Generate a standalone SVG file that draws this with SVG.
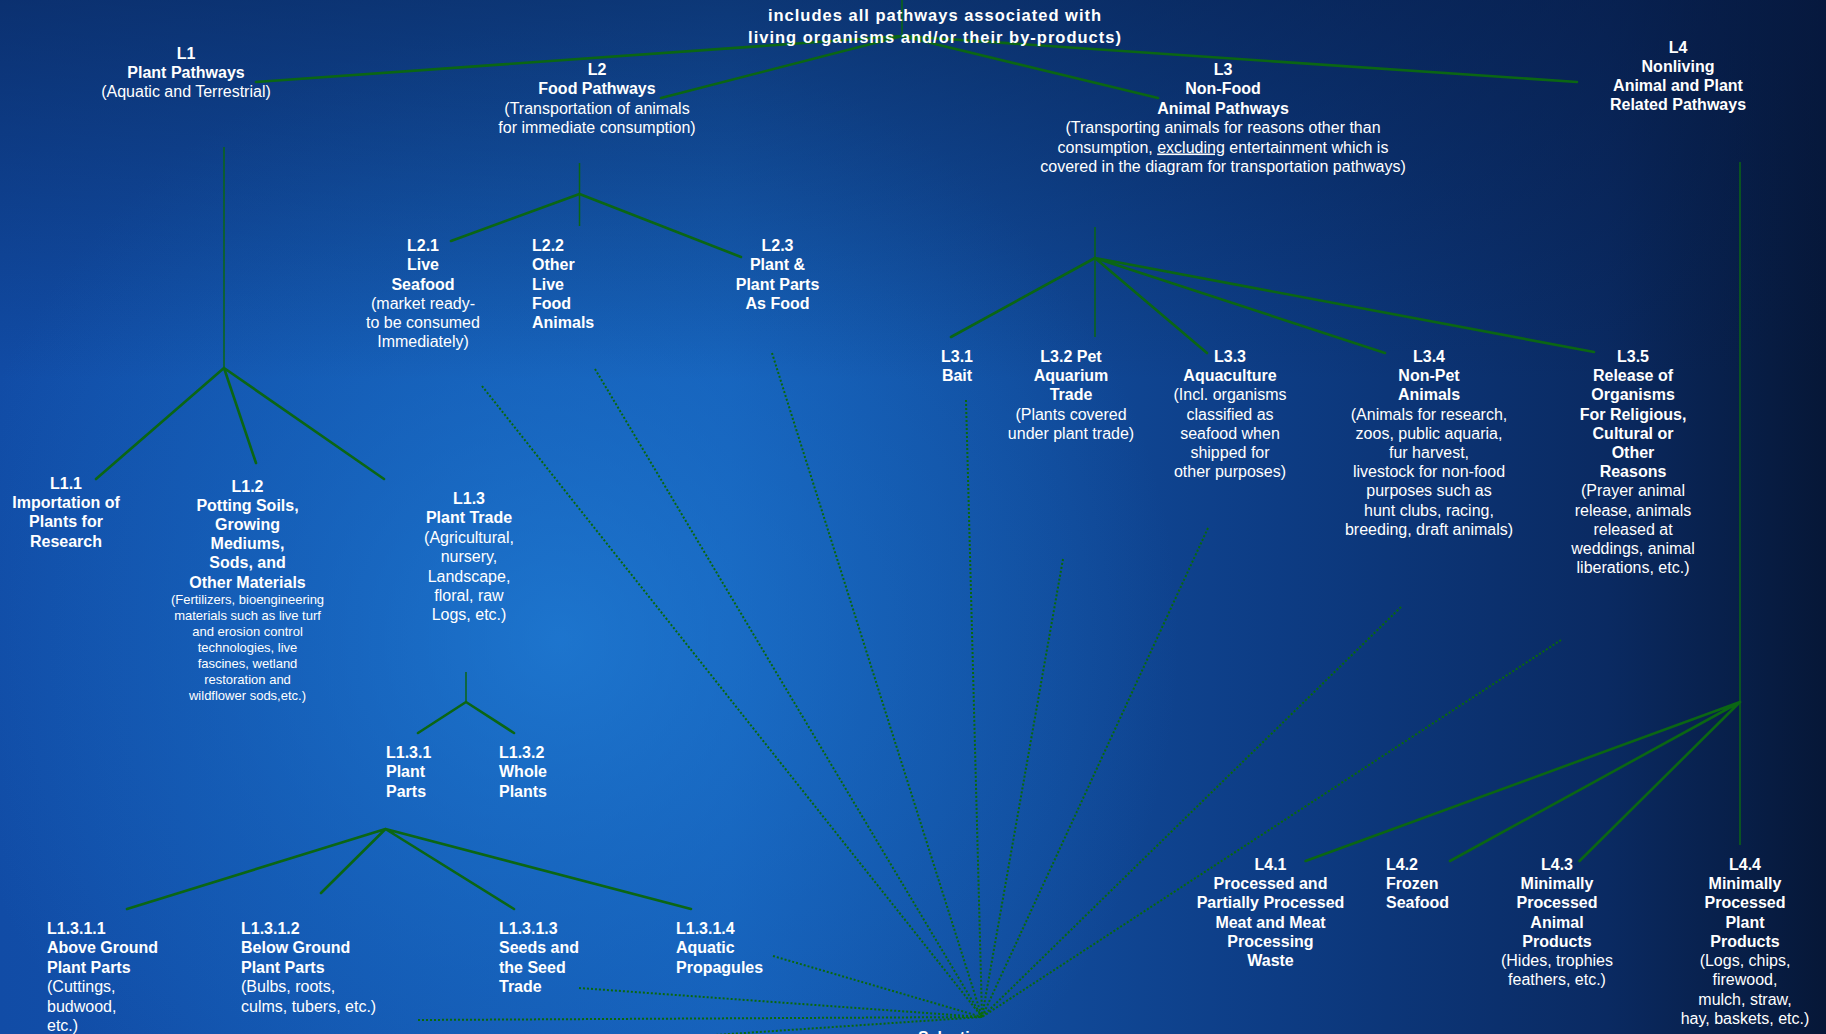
<svg xmlns="http://www.w3.org/2000/svg" width="1826" height="1034" viewBox="0 0 1826 1034">
<defs>
<linearGradient id="bgx" x1="0" y1="0" x2="1826" y2="0" gradientUnits="userSpaceOnUse">
<stop offset="0" stop-color="#114ca6"/>
<stop offset="0.4" stop-color="#155cb6"/>
<stop offset="0.7" stop-color="#0d3c84"/>
<stop offset="0.88" stop-color="#0a2a62"/>
<stop offset="1" stop-color="#061737"/>
</linearGradient>
<radialGradient id="glow" cx="560" cy="640" r="620" gradientUnits="userSpaceOnUse">
<stop offset="0" stop-color="#2284dc" stop-opacity="0.65"/>
<stop offset="0.6" stop-color="#1a74cc" stop-opacity="0.3"/>
<stop offset="1" stop-color="#1a74cc" stop-opacity="0"/>
</radialGradient>
<linearGradient id="topdark" x1="0" y1="0" x2="0" y2="380" gradientUnits="userSpaceOnUse">
<stop offset="0" stop-color="#061a44" stop-opacity="0.55"/>
<stop offset="1" stop-color="#061a44" stop-opacity="0"/>
</linearGradient>
</defs>
<style>
text{font-family:"Liberation Sans",Arial,sans-serif;fill:#ffffff}
.b{font-weight:bold;font-size:16px}
.n{font-size:16px}
.s{font-size:13px}
.m{text-anchor:middle}
.title{font-weight:bold;font-size:16.5px;letter-spacing:1px;text-anchor:middle}
.solid{stroke:#0b6614;stroke-width:2.6;fill:none;stroke-linecap:round}
.thin{stroke:#0b6614;stroke-width:1.5;fill:none}
.dot{stroke:#0a690c;stroke-width:2;fill:none;stroke-dasharray:2 2}
</style>
<rect width="1826" height="1034" fill="url(#bgx)"/>
<rect width="1826" height="1034" fill="url(#glow)"/>
<rect width="1826" height="1034" fill="url(#topdark)"/>

<g id="connectors">
<path class="thin" d="M902,0 V36"/>
<path class="solid" d="M902,36 L256,82 M902,36 L661,98 M902,36 L1158,98 M902,36 L1577,82"/>
<path class="thin" d="M224,147 V368"/>
<path class="solid" d="M224,368 L96,479 M224,368 L256,463 M224,368 L384,479"/>
<path class="thin" d="M466,672 V702"/>
<path class="solid" d="M466,702 L418,733 M466,702 L514,733"/>
<path class="solid" d="M385.5,829 L127,909 M385.5,829 L321,893 M385.5,829 L514,909 M385.5,829 L691,909"/>
<path class="thin" d="M579.5,163 V226"/>
<path class="solid" d="M579.5,194 L451,241 M579.5,194 L741,257"/>
<path class="thin" d="M1095,227 V337"/>
<path class="solid" d="M1095,258 L951,337 M1095,258 L1207,353 M1095,258 L1385,353 M1095,258 L1594,352"/>
<path class="thin" d="M1740,162 V845"/>
<path class="solid" d="M1740,702 L1305.6,861 M1740,702 L1450,861 M1740,702 L1579.5,861"/>
<g id="dotted">
<path class="dot" d="M482,386 L982,1017"/>
<path class="dot" d="M595,369 L982,1017"/>
<path class="dot" d="M772,353 L982,1017"/>
<path class="dot" d="M966,400 L982,1017"/>
<path class="dot" d="M1063,559 L982,1017"/>
<path class="dot" d="M1208,528 L982,1017"/>
<path class="dot" d="M1401,607 L982,1017"/>
<path class="dot" d="M1561,640 L982,1017"/>
<path class="dot" d="M773,956 L982,1017"/>
<path class="dot" d="M579,988 L982,1017"/>
<path class="dot" d="M418,1020 L982,1017"/>
<path class="dot" d="M700,1036 L982,1017"/>
</g>
</g>

<g id="title">
<text class="title" x="935" y="21">includes all pathways associated with</text>
<text class="title" x="935" y="43">living organisms and/or their by-products)</text>
</g>

<g id="L1">
<text class="b m" x="186" y="59">L1</text>
<text class="b m" x="186" y="78">Plant Pathways</text>
<text class="n m" x="186" y="97">(Aquatic and Terrestrial)</text>
</g>

<g id="L2">
<text class="b m" x="597" y="74.5">L2</text>
<text class="b m" x="597" y="94">Food Pathways</text>
<text class="n m" x="597" y="113.5">(Transportation of animals</text>
<text class="n m" x="597" y="133">for immediate consumption)</text>
</g>

<g id="L3">
<text class="b m" x="1223" y="74.5">L3</text>
<text class="b m" x="1223" y="94">Non-Food</text>
<text class="b m" x="1223" y="113.5">Animal Pathways</text>
<text class="n m" x="1223" y="133">(Transporting animals for reasons other than</text>
<text class="n m" x="1223" y="152.5">consumption, <tspan text-decoration="underline">excluding</tspan> entertainment which is</text>
<text class="n m" x="1223" y="172">covered in the diagram for transportation pathways)</text>
</g>

<g id="L4">
<text class="b m" x="1678" y="52.5">L4</text>
<text class="b m" x="1678" y="71.5">Nonliving</text>
<text class="b m" x="1678" y="90.5">Animal and Plant</text>
<text class="b m" x="1678" y="109.5">Related Pathways</text>
</g>

<g id="L1.1">
<text class="b m" x="66" y="488.5">L1.1</text>
<text class="b m" x="66" y="507.5">Importation of</text>
<text class="b m" x="66" y="527">Plants for</text>
<text class="b m" x="66" y="546.5">Research</text>
</g>

<g id="L1.2">
<text class="b m" x="247.5" y="491.5">L1.2</text>
<text class="b m" x="247.5" y="510.5">Potting Soils,</text>
<text class="b m" x="247.5" y="530">Growing</text>
<text class="b m" x="247.5" y="549">Mediums,</text>
<text class="b m" x="247.5" y="568">Sods, and</text>
<text class="b m" x="247.5" y="587.5">Other Materials</text>
<text class="s m" x="247.5" y="603.5">(Fertilizers, bioengineering</text>
<text class="s m" x="247.5" y="619.5">materials such as live turf</text>
<text class="s m" x="247.5" y="635.5">and erosion control</text>
<text class="s m" x="247.5" y="651.5">technologies, live</text>
<text class="s m" x="247.5" y="667.5">fascines, wetland</text>
<text class="s m" x="247.5" y="683.5">restoration and</text>
<text class="s m" x="247.5" y="699.5">wildflower sods,etc.)</text>
</g>

<g id="L1.3">
<text class="b m" x="469" y="503.5">L1.3</text>
<text class="b m" x="469" y="523">Plant Trade</text>
<text class="n m" x="469" y="542.5">(Agricultural,</text>
<text class="n m" x="469" y="562">nursery,</text>
<text class="n m" x="469" y="581.5">Landscape,</text>
<text class="n m" x="469" y="601">floral, raw</text>
<text class="n m" x="469" y="620">Logs, etc.)</text>
</g>

<g id="L1.3.1">
<text class="b" x="386" y="757.5">L1.3.1</text>
<text class="b" x="386" y="777">Plant</text>
<text class="b" x="386" y="796.5">Parts</text>
</g>

<g id="L1.3.2">
<text class="b" x="499" y="757.5">L1.3.2</text>
<text class="b" x="499" y="777">Whole</text>
<text class="b" x="499" y="796.5">Plants</text>
</g>

<g id="L1.3.1.1">
<text class="b" x="47" y="933.5">L1.3.1.1</text>
<text class="b" x="47" y="953">Above Ground</text>
<text class="b" x="47" y="972.5">Plant Parts</text>
<text class="n" x="47" y="992">(Cuttings,</text>
<text class="n" x="47" y="1011.5">budwood,</text>
<text class="n" x="47" y="1031">etc.)</text>
</g>

<g id="L1.3.1.2">
<text class="b" x="241" y="933.5">L1.3.1.2</text>
<text class="b" x="241" y="953">Below Ground</text>
<text class="b" x="241" y="972.5">Plant Parts</text>
<text class="n" x="241" y="992">(Bulbs, roots,</text>
<text class="n" x="241" y="1011.5">culms, tubers, etc.)</text>
</g>

<g id="L1.3.1.3">
<text class="b" x="499" y="933.5">L1.3.1.3</text>
<text class="b" x="499" y="953">Seeds and</text>
<text class="b" x="499" y="972.5">the Seed</text>
<text class="b" x="499" y="992">Trade</text>
</g>

<g id="L1.3.1.4">
<text class="b" x="676" y="933.5">L1.3.1.4</text>
<text class="b" x="676" y="953">Aquatic</text>
<text class="b" x="676" y="972.5">Propagules</text>
</g>

<g id="L2.1">
<text class="b m" x="423" y="250.5">L2.1</text>
<text class="b m" x="423" y="270">Live</text>
<text class="b m" x="423" y="289.5">Seafood</text>
<text class="n m" x="423" y="308.5">(market ready-</text>
<text class="n m" x="423" y="328">to be consumed</text>
<text class="n m" x="423" y="347">Immediately)</text>
</g>

<g id="L2.2">
<text class="b" x="532" y="250.5">L2.2</text>
<text class="b" x="532" y="270">Other</text>
<text class="b" x="532" y="289.5">Live</text>
<text class="b" x="532" y="308.5">Food</text>
<text class="b" x="532" y="328">Animals</text>
</g>

<g id="L2.3">
<text class="b m" x="777.5" y="250.5">L2.3</text>
<text class="b m" x="777.5" y="270">Plant &amp;</text>
<text class="b m" x="777.5" y="289.5">Plant Parts</text>
<text class="b m" x="777.5" y="308.5">As Food</text>
</g>

<g id="L3.1">
<text class="b m" x="957" y="361.5">L3.1</text>
<text class="b m" x="957" y="381">Bait</text>
</g>

<g id="L3.2">
<text class="b m" x="1071" y="361.5">L3.2 Pet</text>
<text class="b m" x="1071" y="381">Aquarium</text>
<text class="b m" x="1071" y="400">Trade</text>
<text class="n m" x="1071" y="419.5">(Plants covered</text>
<text class="n m" x="1071" y="438.5">under plant trade)</text>
</g>

<g id="L3.3">
<text class="b m" x="1230" y="361.5">L3.3</text>
<text class="b m" x="1230" y="381">Aquaculture</text>
<text class="n m" x="1230" y="400">(Incl. organisms</text>
<text class="n m" x="1230" y="419.5">classified as</text>
<text class="n m" x="1230" y="438.5">seafood when</text>
<text class="n m" x="1230" y="457.5">shipped for</text>
<text class="n m" x="1230" y="477">other purposes)</text>
</g>

<g id="L3.4">
<text class="b m" x="1429" y="361.5">L3.4</text>
<text class="b m" x="1429" y="381">Non-Pet</text>
<text class="b m" x="1429" y="400">Animals</text>
<text class="n m" x="1429" y="419.5">(Animals for research,</text>
<text class="n m" x="1429" y="438.5">zoos, public aquaria,</text>
<text class="n m" x="1429" y="457.5">fur harvest,</text>
<text class="n m" x="1429" y="477">livestock for non-food</text>
<text class="n m" x="1429" y="496">purposes such as</text>
<text class="n m" x="1429" y="515.5">hunt clubs, racing,</text>
<text class="n m" x="1429" y="534.5">breeding, draft animals)</text>
</g>

<g id="L3.5">
<text class="b m" x="1633" y="361.5">L3.5</text>
<text class="b m" x="1633" y="381">Release of</text>
<text class="b m" x="1633" y="400">Organisms</text>
<text class="b m" x="1633" y="419.5">For Religious,</text>
<text class="b m" x="1633" y="438.5">Cultural or</text>
<text class="b m" x="1633" y="457.5">Other</text>
<text class="b m" x="1633" y="477">Reasons</text>
<text class="n m" x="1633" y="496">(Prayer animal</text>
<text class="n m" x="1633" y="515.5">release, animals</text>
<text class="n m" x="1633" y="534.5">released at</text>
<text class="n m" x="1633" y="553.5">weddings, animal</text>
<text class="n m" x="1633" y="573">liberations, etc.)</text>
</g>

<g id="L4.1">
<text class="b m" x="1270.5" y="869.5">L4.1</text>
<text class="b m" x="1270.5" y="889">Processed and</text>
<text class="b m" x="1270.5" y="908">Partially Processed</text>
<text class="b m" x="1270.5" y="927.5">Meat and Meat</text>
<text class="b m" x="1270.5" y="946.5">Processing</text>
<text class="b m" x="1270.5" y="966">Waste</text>
</g>

<g id="L4.2">
<text class="b" x="1386" y="869.5">L4.2</text>
<text class="b" x="1386" y="889">Frozen</text>
<text class="b" x="1386" y="908">Seafood</text>
</g>

<g id="L4.3">
<text class="b m" x="1557" y="869.5">L4.3</text>
<text class="b m" x="1557" y="889">Minimally</text>
<text class="b m" x="1557" y="908">Processed</text>
<text class="b m" x="1557" y="927.5">Animal</text>
<text class="b m" x="1557" y="946.5">Products</text>
<text class="n m" x="1557" y="966">(Hides, trophies</text>
<text class="n m" x="1557" y="985">feathers, etc.)</text>
</g>

<g id="L4.4">
<text class="b m" x="1745" y="869.5">L4.4</text>
<text class="b m" x="1745" y="889">Minimally</text>
<text class="b m" x="1745" y="908">Processed</text>
<text class="b m" x="1745" y="927.5">Plant</text>
<text class="b m" x="1745" y="946.5">Products</text>
<text class="n m" x="1745" y="966">(Logs, chips,</text>
<text class="n m" x="1745" y="985">firewood,</text>
<text class="n m" x="1745" y="1004.5">mulch, straw,</text>
<text class="n m" x="1745" y="1023.5">hay, baskets, etc.)</text>
</g>

<g id="selection">
<text class="b" x="918" y="1043">Selection</text>
</g>
</svg>
